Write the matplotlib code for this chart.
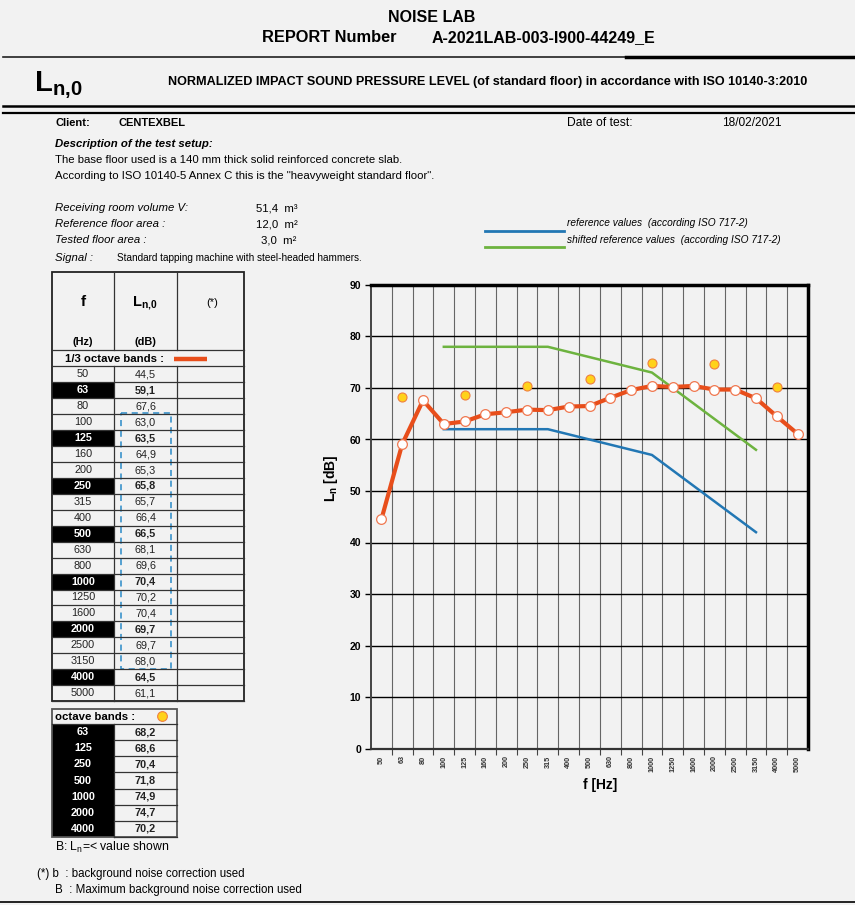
import numpy as np
import matplotlib
matplotlib.use('Agg')
import matplotlib.pyplot as plt
from matplotlib.patches import Rectangle

plt.rcParams['font.family'] = ['Liberation Sans', 'DejaVu Sans']
plt.rcParams['mathtext.fontset'] = 'custom'
plt.rcParams['mathtext.rm'] = 'Liberation Sans'
plt.rcParams['mathtext.bf'] = 'Liberation Sans:bold'
plt.rcParams['mathtext.it'] = 'Liberation Sans:italic'

# ---------------- data ----------------
freqs = ['50', '63', '80', '100', '125', '160', '200', '250', '315', '400', '500',
         '630', '800', '1000', '1250', '1600', '2000', '2500', '3150', '4000', '5000']
ln0 = [44.5, 59.1, 67.6, 63.0, 63.5, 64.9, 65.3, 65.8, 65.7, 66.4, 66.5,
       68.1, 69.6, 70.4, 70.2, 70.4, 69.7, 69.7, 68.0, 64.5, 61.1]
oct_freqs = ['63', '125', '250', '500', '1000', '2000', '4000']
oct_ln = [68.2, 68.6, 70.4, 71.8, 74.9, 74.7, 70.2]
ref_freqs = ['100', '125', '160', '200', '250', '315', '400', '500',
             '630', '800', '1000', '1250', '1600', '2000', '2500', '3150']
ref_values = [62, 62, 62, 62, 62, 62, 61, 60, 59, 58, 57, 54, 51, 48, 45, 42]
shift = 16

BG = '#f2f2f2'
ORANGE = '#E84E1B'
BLUE = '#2277B4'
GREEN = '#6DB33F'


def dec(v):
    return ('%.1f' % v).replace('.', ',')


fig = plt.figure(figsize=(8.55, 9.05), dpi=100, facecolor=BG)

# page overlay in pixel coordinates
pg = fig.add_axes([0, 0, 1, 1])
pg.set_xlim(0, 855)
pg.set_ylim(905, 0)
pg.axis('off')

# header
pg.text(432, 17, 'NOISE LAB', ha='center', va='center', fontsize=11.5, fontweight='bold')
pg.text(262, 38, 'REPORT Number', ha='left', va='center', fontsize=11.8, fontweight='bold')
pg.text(432, 38, 'A-2021LAB-003-I900-44249_E', ha='left', va='center', fontsize=11.5, fontweight='bold')
pg.plot([3, 855], [57, 57], color='#222222', lw=1.2)
pg.plot([626, 855], [57, 57], color='black', lw=2.5)
pg.text(34, 91, r'$\mathbf{L_{n{,}0}}$', ha='left', va='baseline', fontsize=21)
pg.text(168, 82, 'NORMALIZED IMPACT SOUND PRESSURE LEVEL (of standard floor) in accordance with ISO 10140-3:2010',
        ha='left', va='center', fontsize=9.1, fontweight='bold')
pg.plot([3, 855], [106.5, 106.5], color='black', lw=1.8)
pg.plot([3, 855], [113, 113], color='black', lw=1.6)

# client / description
fs = 8.2
pg.text(55, 123, 'Client:', fontsize=8, fontweight='bold', va='center')
pg.text(118, 123, 'CENTEXBEL', fontsize=8, fontweight='bold', va='center')
pg.text(567, 123, 'Date of test:', fontsize=8.7, va='center')
pg.text(722, 123, '18/02/2021', fontsize=8.6, va='center')
pg.text(55, 144, 'Description of the test setup:', fontsize=fs, fontweight='bold', style='italic', va='center')
pg.text(55, 160, 'The base floor used is a 140 mm thick solid reinforced concrete slab.', fontsize=fs, va='center')
pg.text(55, 176, 'According to ISO 10140-5 Annex C this is the "heavyweight standard floor".', fontsize=fs, va='center')
pg.text(55, 208, 'Receiving room volume V:', fontsize=fs, style='italic', va='center')
pg.text(55, 224, 'Reference floor area :', fontsize=fs, style='italic', va='center')
pg.text(55, 240, 'Tested floor area :', fontsize=fs, style='italic', va='center')
pg.text(55, 258, 'Signal :', fontsize=fs, style='italic', va='center')
pg.text(117, 258, 'Standard tapping machine with steel-headed hammers.', fontsize=7.2, va='center')
pg.text(256, 208, '51,4  m\u00b3', fontsize=fs, va='center')
pg.text(256, 224, '12,0  m\u00b2', fontsize=fs, va='center')
pg.text(261, 240, '3,0  m\u00b2', fontsize=fs, va='center')

# legend for reference curves
pg.plot([485, 564], [231, 231], color=BLUE, lw=2)
pg.plot([485, 564], [247, 247], color=GREEN, lw=2)
pg.text(567, 223, 'reference values  (according ISO 717-2)', fontsize=7.3, style='italic', va='center')
pg.text(567, 240, 'shifted reference values  (according ISO 717-2)', fontsize=7.3, style='italic', va='center')

# ---------------- 1/3 octave table ----------------
cx = [52, 114, 177, 244]
top, hb, bb = 272, 350, 366.5
rh = (701 - bb) / len(freqs)
lc = '#333333'
tfs = 7.8
for i, f in enumerate(freqs):
    y0 = bb + i * rh
    yc = y0 + rh / 2
    bold = f in oct_freqs
    if bold:
        pg.add_patch(Rectangle((cx[0], y0), cx[1] - cx[0], rh, facecolor='black', edgecolor='none'))
    pg.text((cx[0] + cx[1]) / 2, yc, f, ha='center', va='center', fontsize=tfs,
            color='white' if bold else '#222222', fontweight='bold' if bold else 'normal')
    pg.text((cx[1] + cx[2]) / 2, yc, dec(ln0[i]), ha='center', va='center', fontsize=tfs,
            color='#222222', fontweight='bold' if bold else 'normal')
    pg.plot([cx[0], cx[3]], [y0 + rh, y0 + rh], color=lc, lw=0.9)
for xx in cx[1:3]:
    pg.plot([xx, xx], [top, hb], color=lc, lw=0.9)
    pg.plot([xx, xx], [bb, 701], color=lc, lw=0.9)
pg.plot([cx[0], cx[3]], [hb, hb], color=lc, lw=0.9)
pg.plot([cx[0], cx[3]], [bb, bb], color=lc, lw=0.9)
pg.add_patch(Rectangle((cx[0], top), cx[3] - cx[0], 701 - top, facecolor='none', edgecolor='#222222', lw=1.3))
pg.text(83, 302, 'f', ha='center', va='center', fontsize=11, fontweight='bold')
pg.text(145, 303, r'$\mathbf{L_{n{,}0}}$', ha='center', va='center', fontsize=10.5)
pg.text(212, 303, '(*)', ha='center', va='center', fontsize=8)
pg.text(83, 342, '(Hz)', ha='center', va='center', fontsize=tfs, fontweight='bold')
pg.text(145, 342, '(dB)', ha='center', va='center', fontsize=tfs, fontweight='bold')
pg.text(114, 358.5, '1/3 octave bands :', ha='center', va='center', fontsize=8.2, fontweight='bold')
pg.plot([174, 207], [359, 359], color=ORANGE, lw=3.2, solid_capstyle='butt')
# dashed box around the range used for the reference curve
i0, i1 = freqs.index(ref_freqs[0]), freqs.index(ref_freqs[-1])
pg.add_patch(Rectangle((121, bb + i0 * rh - 1), 50, (i1 - i0 + 1) * rh + 1, facecolor='none',
                       edgecolor='#2A8AC8', lw=1.1, linestyle=(0, (4, 3))))

# ---------------- octave table ----------------
ot, oh = 709, 724
orh = (837 - oh) / len(oct_freqs)
for i, f in enumerate(oct_freqs):
    y0 = oh + i * orh
    yc = y0 + orh / 2
    pg.add_patch(Rectangle((52, y0), 62, orh, facecolor='black', edgecolor='none'))
    pg.text(83, yc, f, ha='center', va='center', fontsize=tfs, color='white', fontweight='bold')
    pg.text(145, yc, dec(oct_ln[i]), ha='center', va='center', fontsize=tfs, fontweight='bold', color='#222222')
    pg.plot([114, 177], [y0 + orh, y0 + orh], color=lc, lw=0.9)
pg.plot([52, 177], [oh, oh], color=lc, lw=0.9)
pg.plot([114, 114], [oh, 837], color=lc, lw=0.9)
pg.add_patch(Rectangle((52, ot), 125, 837 - ot, facecolor='none', edgecolor='#555555', lw=1.3))
pg.text(55, 716.5, 'octave bands :', ha='left', va='center', fontsize=8.2, fontweight='bold')
pg.plot([162], [716], 'o', ms=7, mfc='#FFD21A', mec='#F08040', mew=0.8)

# notes
pg.text(55, 847, r'B: L$_\mathrm{n}$=< value shown', fontsize=8.8, va='center')
pg.text(37, 874, '(*) b  : background noise correction used', fontsize=8.3, va='center')
pg.text(55, 890, 'B  : Maximum background noise correction used', fontsize=8.3, va='center')
pg.plot([0, 855], [902, 902], color='black', lw=1.2)

# ---------------- chart ----------------
ax = fig.add_axes([371 / 855, (905 - 748.5) / 905, 437 / 855, 463.5 / 905], facecolor=BG)
x = np.arange(len(freqs))
ax.set_xlim(-0.5, len(freqs) - 0.5)
ax.set_ylim(0, 90)
ax.set_yticks(np.arange(0, 91, 10))
ax.set_xticks(x)
ax.set_xticklabels(freqs, rotation=90, fontsize=5.2, fontweight='bold', color='#333333')
ax.set_xticks(np.arange(0.5, len(freqs) - 1, 1), minor=True)
ax.tick_params(axis='x', which='major', length=0, pad=5)
ax.tick_params(axis='x', which='minor', length=4, color='#444444', width=0.8)
ax.tick_params(axis='y', length=4, width=1, labelsize=7.5, pad=3)
for lab in ax.get_yticklabels():
    lab.set_fontweight('bold')
ax.grid(which='major', axis='y', color='black', lw=1)
ax.grid(which='minor', axis='x', color='#666666', lw=0.8)
ax.set_axisbelow(True)
ax.spines['top'].set_linewidth(2.5)
ax.spines['right'].set_linewidth(2.5)
ax.spines['left'].set_linewidth(1.4)
ax.spines['left'].set_color('#444444')
ax.spines['bottom'].set_linewidth(1.6)
ax.spines['bottom'].set_color('#333333')

rx = [freqs.index(f) for f in ref_freqs]
ax.plot(rx, ref_values, color=BLUE, lw=1.8, zorder=3)
ax.plot(rx, [v + shift for v in ref_values], color=GREEN, lw=1.8, zorder=3)
ax.plot(x, ln0, color=ORANGE, lw=3, marker='o', ms=7, mfc='white', mec='#F07850', mew=0.9, zorder=5)
ox = [freqs.index(f) for f in oct_freqs]
ax.plot(ox, oct_ln, 'o', ms=6.5, mfc='#FFD21A', mec='#F08040', mew=0.8, zorder=6, linestyle='none')

ax.set_ylabel(r'$\mathbf{L_n}$ [dB]', fontsize=10, fontweight='bold')
ax.yaxis.set_label_coords(-0.07, 0.584)
ax.set_xlabel('f [Hz]', fontsize=10, fontweight='bold')
ax.xaxis.set_label_coords(0.524, -0.064)

fig.savefig('out.png', dpi=100, facecolor=BG)
